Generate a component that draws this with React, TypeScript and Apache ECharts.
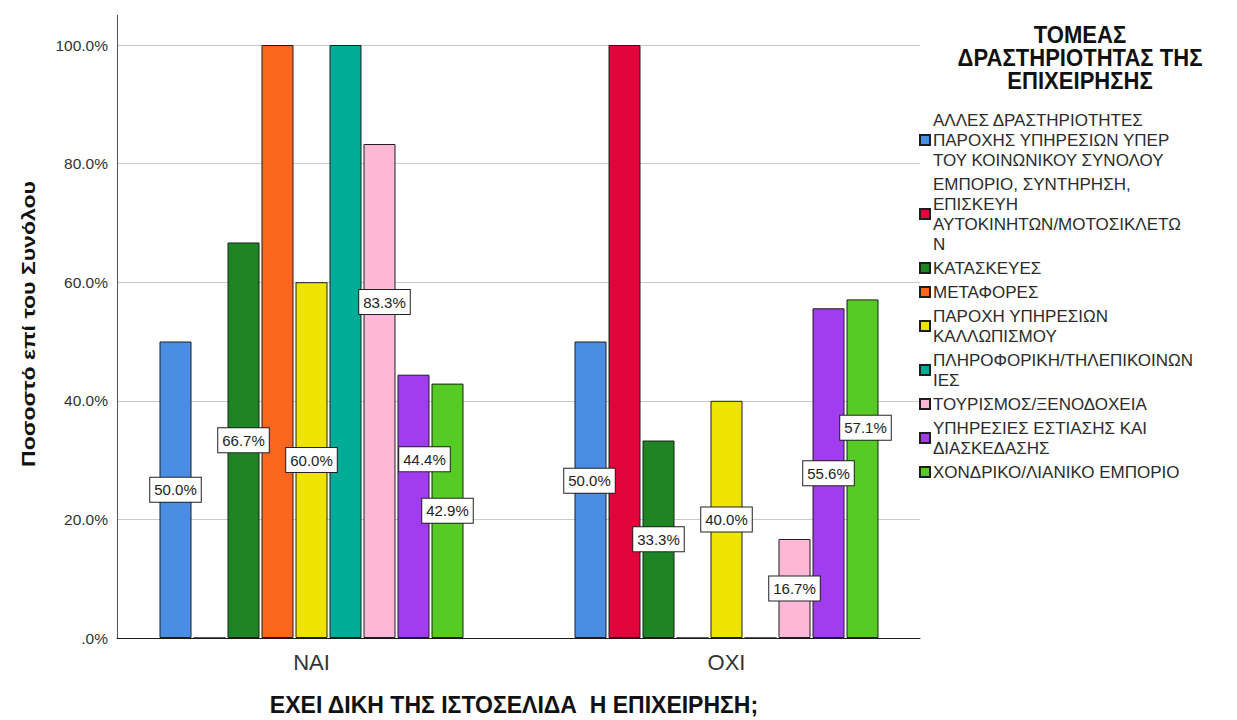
import React, { useEffect, useRef } from "react";
import * as echarts from "echarts";

// Categories on the x axis
const categories = ["ΝΑΙ", "ΟΧΙ"];

// Sector names (series) and their legend labels, wrapped as shown in the legend
const sectorNames = [
  "ΑΛΛΕΣ ΔΡΑΣΤΗΡΙΟΤΗΤΕΣ ΠΑΡΟΧΗΣ ΥΠΗΡΕΣΙΩΝ ΥΠΕΡ ΤΟΥ ΚΟΙΝΩΝΙΚΟΥ ΣΥΝΟΛΟΥ",
  "ΕΜΠΟΡΙΟ, ΣΥΝΤΗΡΗΣΗ, ΕΠΙΣΚΕΥΗ ΑΥΤΟΚΙΝΗΤΩΝ/ΜΟΤΟΣΙΚΛΕΤΩΝ",
  "ΚΑΤΑΣΚΕΥΕΣ",
  "ΜΕΤΑΦΟΡΕΣ",
  "ΠΑΡΟΧΗ ΥΠΗΡΕΣΙΩΝ ΚΑΛΛΩΠΙΣΜΟΥ",
  "ΠΛΗΡΟΦΟΡΙΚΗ/ΤΗΛΕΠΙΚΟΙΝΩΝΙΕΣ",
  "ΤΟΥΡΙΣΜΟΣ/ΞΕΝΟΔΟΧΕΙΑ",
  "ΥΠΗΡΕΣΙΕΣ ΕΣΤΙΑΣΗΣ ΚΑΙ ΔΙΑΣΚΕΔΑΣΗΣ",
  "ΧΟΝΔΡΙΚΟ/ΛΙΑΝΙΚΟ ΕΜΠΟΡΙΟ",
];

const legendLabels = [
  "ΑΛΛΕΣ ΔΡΑΣΤΗΡΙΟΤΗΤΕΣ\nΠΑΡΟΧΗΣ ΥΠΗΡΕΣΙΩΝ ΥΠΕΡ\nΤΟΥ ΚΟΙΝΩΝΙΚΟΥ ΣΥΝΟΛΟΥ",
  "ΕΜΠΟΡΙΟ, ΣΥΝΤΗΡΗΣΗ,\nΕΠΙΣΚΕΥΗ\nΑΥΤΟΚΙΝΗΤΩΝ/ΜΟΤΟΣΙΚΛΕΤΩ\nΝ",
  "ΚΑΤΑΣΚΕΥΕΣ",
  "ΜΕΤΑΦΟΡΕΣ",
  "ΠΑΡΟΧΗ ΥΠΗΡΕΣΙΩΝ\nΚΑΛΛΩΠΙΣΜΟΥ",
  "ΠΛΗΡΟΦΟΡΙΚΗ/ΤΗΛΕΠΙΚΟΙΝΩΝ\nΙΕΣ",
  "ΤΟΥΡΙΣΜΟΣ/ΞΕΝΟΔΟΧΕΙΑ",
  "ΥΠΗΡΕΣΙΕΣ ΕΣΤΙΑΣΗΣ ΚΑΙ\nΔΙΑΣΚΕΔΑΣΗΣ",
  "ΧΟΝΔΡΙΚΟ/ΛΙΑΝΙΚΟ ΕΜΠΟΡΙΟ",
];

// Percentages per sector: [ΝΑΙ, ΟΧΙ]
const allesValues = [50.0, 50.0];
const emporioValues = [0, 100.0];
const kataskeuesValues = [66.7, 33.3];
const metaforesValues = [100.0, 0];
const kallopismosValues = [60.0, 40.0];
const pliroforikiValues = [100.0, 0];
const tourismosValues = [83.3, 16.7];
const estiasiValues = [44.4, 55.6];
const xondrikoValues = [42.9, 57.1];

const seriesValues = [
  allesValues,
  emporioValues,
  kataskeuesValues,
  metaforesValues,
  kallopismosValues,
  pliroforikiValues,
  tourismosValues,
  estiasiValues,
  xondrikoValues,
];

// Y axis ticks
const yTicks = [0, 20, 40, 60, 80, 100];

const sectorColors = [
  "#4a8ee4",
  "#e0063c",
  "#1f8424",
  "#fb661f",
  "#efe300",
  "#00ac96",
  "#fdb8d8",
  "#a23cef",
  "#56cb25",
];

// Label nudges (px) that keep crowded value labels apart: "series-category" -> [dx, dy]
const labelNudges: Record<string, [number, number]> = {
  "6-0": [5, -89],
  "7-0": [11, -47],
  "0-1": [-1, -9],
  "8-1": [3, -41],
};

const FONT = "'Liberation Sans', Arial, sans-serif";

export default function App() {
  const ref = useRef<HTMLDivElement>(null);

  useEffect(() => {
    if (!ref.current) return;
    const chart = echarts.init(ref.current, undefined, { renderer: "svg" });

    const gridTop = 45;
    const gridBottom = 82;

    const series = sectorNames.map((name, si) => ({
      name,
      type: "bar" as const,
      xAxisIndex: 1,
      yAxisIndex: 1,
      barWidth: 32,
      barGap: "6.25%",
      itemStyle: {
        color: sectorColors[si],
        borderColor: "#1e1e1e",
        borderWidth: 1,
      },
      data: seriesValues[si].map((v, ci) => {
        const nudge = labelNudges[`${si}-${ci}`] || [0, 0];
        return {
          value: v,
          label: {
            show: v > 0 && v < 100,
            offset: nudge,
          },
        };
      }),
      label: {
        position: "inside",
        formatter: (p: any) => `${Number(p.value).toFixed(1)}%`,
        fontFamily: FONT,
        fontSize: 15,
        color: "#222",
        backgroundColor: "#ffffff",
        borderColor: "#222",
        borderWidth: 1,
        padding: [4, 4, 3, 4],
        lineHeight: 17,
      },
    }));

    const legendMap: Record<string, string> = {};
    sectorNames.forEach((n, i) => (legendMap[n] = legendLabels[i]));

    chart.setOption({
      animation: false,
      backgroundColor: "#ffffff",
      legend: {
        orient: "vertical",
        left: 914,
        top: 105,
        itemWidth: 10,
        itemHeight: 10,
        itemGap: 4,
        icon: "rect",
        selectedMode: false,
        formatter: (name: string) => legendMap[name] || name,
        textStyle: {
          fontFamily: FONT,
          fontSize: 17,
          lineHeight: 20,
          color: "#2b2b2b",
          padding: [0, 0, 0, -2],
        },
        data: sectorNames,
      },
      grid: [
        { left: 117, right: 317, top: gridTop, bottom: gridBottom },
        { left: 104, right: 303, top: gridTop, bottom: gridBottom },
      ],
      xAxis: [
        {
          type: "category",
          gridIndex: 0,
          data: categories,
          axisLine: { show: true, lineStyle: { color: "#1a1a1a", width: 1 } },
          axisTick: { show: false },
          axisLabel: { show: false },
        },
        {
          type: "category",
          gridIndex: 1,
          data: categories,
          axisLine: { show: false },
          axisTick: { show: false },
          axisLabel: {
            show: true,
            fontFamily: FONT,
            fontSize: 22,
            color: "#333",
            margin: 13,
          },
        },
      ],
      yAxis: [
        {
          type: "value",
          gridIndex: 0,
          min: 0,
          max: 100,
          interval: 20,
          axisLine: { show: true, lineStyle: { color: "#555", width: 1 } },
          axisTick: { show: false },
          splitLine: { show: true, lineStyle: { color: "#c9c9c9", width: 1 } },
          axisLabel: {
            fontFamily: FONT,
            fontSize: 15.5,
            color: "#333",
            margin: 9,
            formatter: (v: number) =>
              yTicks.includes(v) ? (v === 0 ? ".0%" : `${v.toFixed(1)}%`) : "",
          },
        },
        {
          type: "value",
          gridIndex: 1,
          min: 0,
          max: 100,
          interval: 20,
          show: false,
          splitLine: { show: false },
        },
      ],
      graphic: [
        {
          type: "line",
          shape: { x1: 117.5, y1: 15, x2: 117.5, y2: gridTop },
          style: { stroke: "#555", lineWidth: 1 },
          silent: true,
        },
        {
          type: "text",
          x: 1080,
          y: 58,
          scaleX: 0.92,
          style: {
            text: "ΤΟΜΕΑΣ\nΔΡΑΣΤΗΡΙΟΤΗΤΑΣ ΤΗΣ\nΕΠΙΧΕΙΡΗΣΗΣ",
            fontFamily: FONT,
            fontSize: 24,
            fontWeight: "bold",
            lineHeight: 23,
            fill: "#111",
            textAlign: "center",
            textVerticalAlign: "middle",
          },
        },
        {
          type: "text",
          x: 28,
          y: 324,
          rotation: Math.PI / 2,
          scaleX: 1.28,
          style: {
            text: "Ποσοστό επί του Συνόλου",
            fontFamily: FONT,
            fontSize: 18,
            fontWeight: "bold",
            fill: "#111",
            textAlign: "center",
            textVerticalAlign: "middle",
          },
        },
        {
          type: "text",
          x: 514,
          y: 705,
          style: {
            text: "ΕΧΕΙ ΔΙΚΗ ΤΗΣ ΙΣΤΟΣΕΛΙΔΑ  Η ΕΠΙΧΕΙΡΗΣΗ;",
            fontFamily: FONT,
            fontSize: 23,
            fontWeight: "bold",
            fill: "#111",
            textAlign: "center",
            textVerticalAlign: "middle",
          },
        },
      ],
      series,
    });

    return () => chart.dispose();
  }, []);

  return (
    <div
      ref={ref}
      style={{ position: "absolute", left: 0, top: 0, width: 1237, height: 720 }}
    />
  );
}
